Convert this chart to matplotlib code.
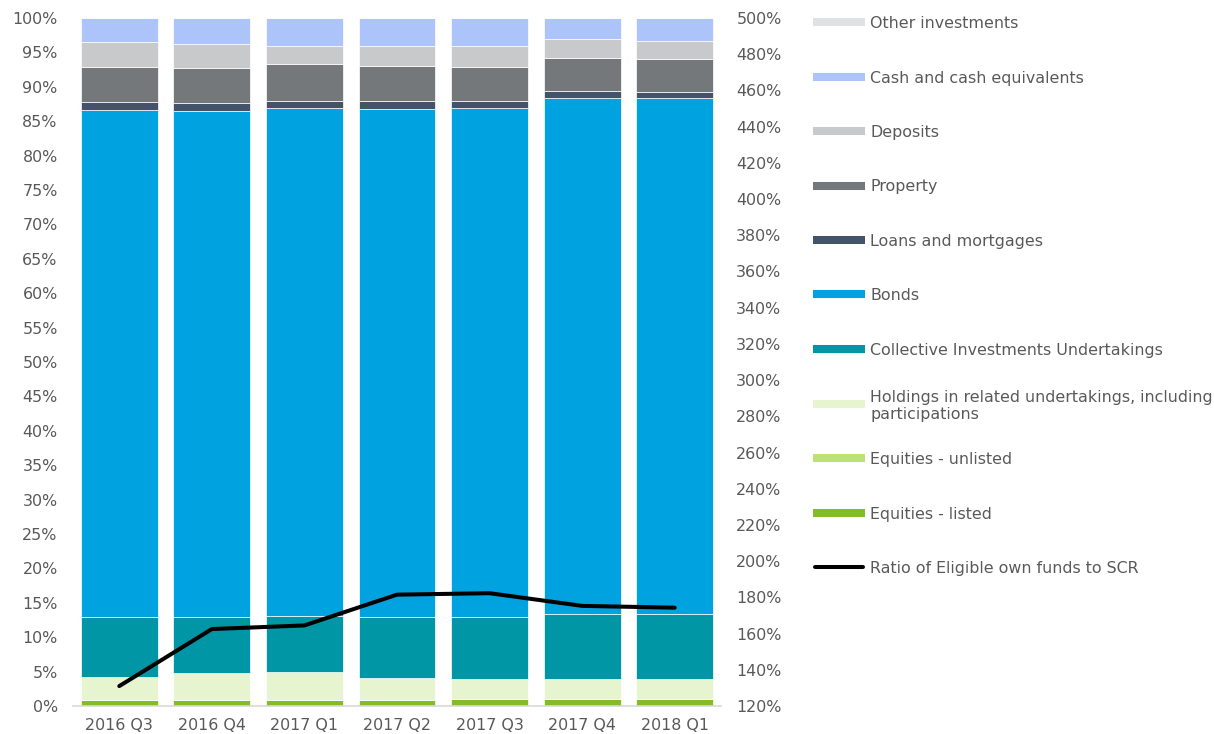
import numpy as np
import matplotlib
matplotlib.use("Agg")
import matplotlib.pyplot as plt
from matplotlib.lines import Line2D
from matplotlib.ticker import FuncFormatter

quarters = ["2016 Q3", "2016 Q4", "2017 Q1", "2017 Q2", "2017 Q3", "2017 Q4", "2018 Q1"]

# asset mix, % of total investments (bottom to top)
equities_listed = [0.80, 0.80, 0.80, 0.85, 1.00, 1.00, 1.00]
equities_unlisted = [0.05, 0.05, 0.05, 0.05, 0.05, 0.05, 0.05]
holdings = [3.32, 3.90, 4.15, 3.10, 2.82, 2.87, 2.87]
ciu = [8.73, 8.25, 8.10, 8.90, 9.03, 9.38, 9.38]
bonds = [73.70, 73.50, 73.75, 73.90, 73.95, 75.10, 75.10]
loans = [1.15, 1.10, 1.15, 1.10, 1.15, 1.00, 0.90]
property_ = [5.15, 5.20, 5.25, 5.07, 4.90, 4.80, 4.70]
deposits = [3.65, 3.40, 2.75, 3.03, 3.10, 2.70, 2.65]
cash = [3.40, 3.75, 3.95, 3.95, 3.95, 3.05, 3.30]
other = [0.05, 0.05, 0.05, 0.05, 0.05, 0.05, 0.05]

# solvency ratio, % (right axis)
scr_ratio = [131.0, 162.5, 164.5, 181.5, 182.3, 175.3, 174.3]

series = [
    ("Equities - listed", equities_listed, "#84BC27"),
    ("Equities - unlisted", equities_unlisted, "#BBE272"),
    ("Holdings in related undertakings, including\nparticipations", holdings, "#E6F5CF"),
    ("Collective Investments Undertakings", ciu, "#0096A6"),
    ("Bonds", bonds, "#00A3E0"),
    ("Loans and mortgages", loans, "#435369"),
    ("Property", property_, "#74787B"),
    ("Deposits", deposits, "#C8C9CB"),
    ("Cash and cash equivalents", cash, "#ADC4FB"),
    ("Other investments", other, "#E0E1E3"),
]

txt = "#595959"
fs = 11.4
W, H = 1214, 734

fig = plt.figure(figsize=(W / 100, H / 100), dpi=100)
ax = fig.add_axes([73 / W, 1 - 706 / H, (721 - 73) / W, (706 - 18) / H])

x = np.arange(len(quarters))
bottom = np.zeros(len(quarters))
for name, vals, col in series:
    ax.bar(x, vals, 0.83, bottom=bottom, color=col, edgecolor="white", linewidth=0.5)
    bottom += np.array(vals)

ax.set_xlim(-0.5, len(quarters) - 0.5)
ax.set_ylim(0, 100)
ax.set_yticks(np.arange(0, 101, 5))
ax.yaxis.set_major_formatter(FuncFormatter(lambda v, p: f"{v:.0f}%"))
ax.set_xticks(x)
ax.set_xticklabels(quarters)
ax.tick_params(axis="both", length=0, labelsize=fs, labelcolor=txt)
ax.tick_params(axis="y", pad=11)
ax.tick_params(axis="x", pad=8.5)
for s in ["top", "right", "left"]:
    ax.spines[s].set_visible(False)
ax.spines["bottom"].set_color("#D9D9D9")
ax.spines["bottom"].set_linewidth(1.2)

ax2 = ax.twinx()
ax2.plot(x, scr_ratio, color="black", lw=2.9, solid_capstyle="round", solid_joinstyle="round")
ax2.set_ylim(120, 500)
ax2.set_yticks(np.arange(120, 501, 20))
ax2.yaxis.set_major_formatter(FuncFormatter(lambda v, p: f"{v:.0f}%"))
ax2.tick_params(axis="y", length=0, labelsize=fs, labelcolor=txt, pad=11)
for s in ["top", "right", "left", "bottom"]:
    ax2.spines[s].set_visible(False)

# legend column on the right, top to bottom
entries = [(n, c, "patch") for n, v, c in series[::-1]]
entries.append(("Ratio of Eligible own funds to SCR", "black", "line"))
for i, (name, col, kind) in enumerate(entries):
    yc = 1 - (22 + 54.5 * i) / H
    if kind == "patch":
        h = Line2D([813 / W, 865 / W], [yc, yc], transform=fig.transFigure,
                   color=col, lw=5.8, solid_capstyle="butt")
    else:
        h = Line2D([815 / W, 863 / W], [yc, yc], transform=fig.transFigure,
                   color=col, lw=2.9, solid_capstyle="round")
    fig.add_artist(h)
    fig.text(870 / W, yc, name, fontsize=fs, color=txt, va="center_baseline",
             ha="left", linespacing=1.2)

fig.savefig("out.png", dpi=100, facecolor="white")
